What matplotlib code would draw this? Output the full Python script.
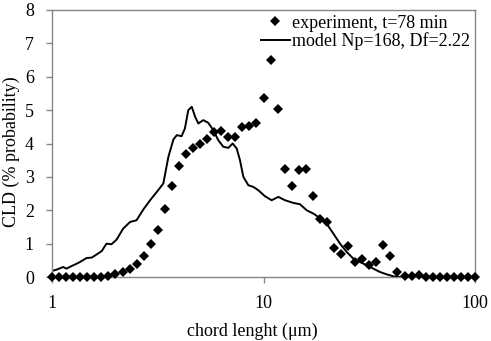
import numpy as np
import matplotlib
matplotlib.use("Agg")
import matplotlib.pyplot as plt

# experimental data: 30 log-spaced channels per decade, 1..100 um
exp_x = 10 ** (np.arange(61) / 30.0)
exp_y = [0, 0, 0, 0, 0, 0, 0, 0.01, 0.04, 0.10,
         0.14, 0.24, 0.40, 0.64, 0.98, 1.42, 2.04, 2.73, 3.32, 3.68,
         3.87, 3.98, 4.12, 4.33, 4.38, 4.19, 4.19, 4.49, 4.52, 4.62,
         5.36, 6.50, 5.04, 3.24, 2.73, 3.22, 3.24, 2.43, 1.74, 1.66,
         0.86, 0.70, 0.93, 0.45, 0.55, 0.37, 0.44, 0.97, 0.64, 0.15,
         0.02, 0.02, 0.07, 0, 0, 0, 0, 0, 0, 0, 0]

# model curve
mod_x = [1.00, 1.05, 1.13, 1.17, 1.24, 1.33, 1.46, 1.54, 1.63, 1.72,
         1.81, 1.91, 2.02, 2.17, 2.34, 2.51, 2.70, 2.91, 3.13, 3.36,
         3.55, 3.75, 3.89, 4.10, 4.25, 4.41, 4.58, 4.75, 4.92, 5.19,
         5.48, 5.79, 6.11, 6.46, 6.82, 7.15, 7.47, 7.74, 8.03, 8.48,
         8.95, 9.45, 10.16, 10.93, 11.75, 12.64, 13.84, 14.88, 16.00, 17.20,
         18.16, 19.89, 21.39, 23.00, 24.73, 26.59, 28.60, 30.74, 33.06, 35.55,
         38.22, 41.11, 44.20]
mod_y = [0.18, 0.22, 0.30, 0.25, 0.33, 0.42, 0.57, 0.58, 0.68, 0.78,
         1.00, 0.98, 1.12, 1.45, 1.65, 1.70, 2.02, 2.30, 2.55, 2.80,
         3.60, 4.12, 4.25, 4.22, 4.45, 5.00, 5.10, 4.80, 4.60, 4.70,
         4.62, 4.40, 4.10, 3.90, 3.87, 4.00, 3.85, 3.50, 3.00, 2.75,
         2.70, 2.60, 2.42, 2.30, 2.40, 2.30, 2.22, 2.18, 2.00, 1.90,
         1.80, 1.60, 1.30, 1.00, 0.75, 0.55, 0.45, 0.35, 0.25, 0.15,
         0.08, 0.02, 0.00]

y_ticks = [0, 1, 2, 3, 4, 5, 6, 7, 8]
x_ticks = [1, 10, 100]
x_ticklabels = ["1", "10", "100"]

plt.rcParams['font.family'] = ['Liberation Serif', 'DejaVu Serif']

W, H = 491, 341
fig = plt.figure(figsize=(W / 100, H / 100), dpi=100)
ax = fig.add_axes([52 / W, 1 - 277 / H, 423 / W, 267 / H])

ax.plot(mod_x, mod_y, color='black', lw=1.4, label='model Np=168, Df=2.22', zorder=2)
ax.plot(exp_x, exp_y, linestyle='none', marker='D', ms=5, mew=0, color='black',
        label='experiment, t=78 min', zorder=3, clip_on=False)

ax.set_xscale('log')
ax.set_xlim(1, 100)
ax.set_ylim(0, 8)
ax.set_xticks(x_ticks)
ax.set_xticklabels(x_ticklabels)
ax.xaxis.set_minor_locator(matplotlib.ticker.NullLocator())
ax.set_yticks(y_ticks)

for s in ax.spines.values():
    s.set_color('#868686')
    s.set_linewidth(1.0)
ax.tick_params(axis='both', direction='out', length=4, color='#868686',
               labelsize=13, width=1.0)
ax.tick_params(axis='x', pad=9)
ax.tick_params(axis='y', pad=9)

fig.text(252 / W, 1 - 331 / H, 'chord lenght (μm)', fontsize=13,
         ha='center', va='center')
fig.text(11 / W, 1 - 152 / H, 'CLD (% probability)', fontsize=13,
         ha='center', va='center', rotation=90)

handles, labels = ax.get_legend_handles_labels()
leg = ax.legend(handles[::-1], labels[::-1], loc='upper right', frameon=False,
                fontsize=13, handlelength=1.6, handletextpad=0.15,
                borderpad=0.15, labelspacing=0.05, borderaxespad=0.1)

fig.savefig('out.png', dpi=100)
